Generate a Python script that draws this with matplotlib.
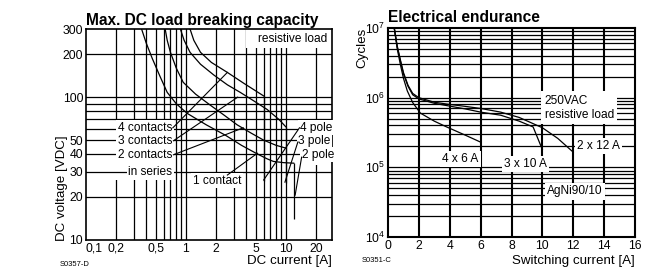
import numpy as np
import matplotlib.pyplot as plt
from matplotlib.patches import Rectangle
from matplotlib import font_manager

names = {f.name for f in font_manager.fontManager.ttflist}
narrow = 'Liberation Sans Narrow' if 'Liberation Sans Narrow' in names else 'Liberation Sans'
plt.rcParams['font.family'] = [narrow, 'DejaVu Sans']
plt.rcParams['mathtext.fontset'] = 'custom'
plt.rcParams['mathtext.rm'] = narrow
plt.rcParams['mathtext.default'] = 'rm'

# Left chart: max. DC load breaking capacity (current [A], voltage [V])
i_1c = [0.36, 0.40, 0.46, 0.55, 0.65, 0.8, 1.03, 1.6, 2.5, 3.6, 5.2, 6.5, 7.5, 9.5, 12]
u_1c = [300, 240, 187, 140, 108, 90, 77, 64, 54, 46, 40, 37, 35.5, 34.8, 34.5]
i_2c = [0.62, 0.65, 0.70, 0.8, 0.94, 1.25, 1.75, 2.4, 3.26, 4.5, 6.0, 8.0, 10]
u_2c = [300, 250, 206, 160, 127, 105, 88, 75, 64, 56, 50, 46, 44]
i_3c = [0.88, 0.96, 1.1, 1.4, 1.9, 2.6, 3.5, 4.8, 6.5, 8.5, 10]
u_3c = [300, 250, 206, 170, 143, 122, 108, 94, 82, 70, 62]
i_4c = [1.1, 1.2, 1.4, 1.8, 2.6, 3.8, 6.0]
u_4c = [300, 250, 206, 175, 149, 125, 102]
pole_i = [6, 10, 12]
pole_top = [102, 62, 34.5]
pole_bottom = [26, 25, 14]

x1_ticks = [0.1, 0.2, 0.5, 1, 2, 5, 10, 20]
x1_labels = ['0,1', '0,2', '0,5', '1', '2', '5', '10', '20']
y1_ticks = [10, 20, 30, 40, 50, 100, 200, 300]
x1_grid = [0.2, 0.3, 0.4, 0.5, 0.6, 0.7, 0.8, 0.9, 1, 2, 3, 4, 5, 6, 7, 8, 9, 10, 20]
y1_grid = [20, 30, 40, 50, 60, 70, 80, 90, 100, 200]

# Right chart: electrical endurance (switching current [A], cycles)
i_2x12 = [0.42, 0.6, 0.8, 1.0, 1.3, 1.6, 2.0, 3.0, 3.8, 5.0, 6.0, 7.3, 8.5, 10.0, 11.0, 12.0]
n_2x12 = [9.5e6, 5.5e6, 3.5e6, 2.3e6, 1.5e6, 1.15e6, 1.0e6, 8.6e5, 8.1e5, 7.5e5, 7.0e5, 6.2e5, 5.2e5, 3.7e5, 2.6e5, 1.65e5]
i_3x10 = [0.42, 0.6, 0.8, 1.0, 1.3, 1.6, 2.0, 3.0, 3.8, 5.0, 6.0, 7.3, 8.5, 9.4, 10.0]
n_3x10 = [9.5e6, 5.3e6, 3.4e6, 2.2e6, 1.45e6, 1.1e6, 9.6e5, 8.3e5, 7.7e5, 6.9e5, 6.2e5, 5.6e5, 4.6e5, 3.8e5, 1.8e5]
i_4x6 = [0.42, 0.6, 0.8, 1.0, 1.25, 1.6, 2.1, 3.0, 3.8, 5.0, 6.0]
n_4x6 = [9.5e6, 5.0e6, 3.0e6, 1.9e6, 1.25e6, 8.5e5, 6.0e5, 4.6e5, 3.8e5, 2.9e5, 2.3e5]

x2_ticks = [0, 2, 4, 6, 8, 10, 12, 14, 16]
y2_ticks = [1e4, 1e5, 1e6, 1e7]
y2_labels = [r'$10^{4}$', r'$10^{5}$', r'$10^{6}$', r'$10^{7}$']

fig = plt.figure(figsize=(6.64, 2.68), dpi=100)

# ---------------- left chart
ax1 = fig.add_axes([86/664, 1 - 240/268, 246/664, 211/268])
ax1.set_xscale('log')
ax1.set_yscale('log')
ax1.set_xlim(0.1, 29)
ax1.set_ylim(10, 300)
ax1.minorticks_off()

for x in x1_grid:
    ax1.axvline(x, color='black', lw=0.9, zorder=1)
for y in y1_grid:
    ax1.axhline(y, color='black', lw=0.9, zorder=3)

# white areas behind the labels
for (x0, y0, w, h) in [(0, 0.284, 0.358, 0.285), (0.858, 0.355, 0.142, 0.214), (0.65, 0.91, 0.35, 0.09)]:
    ax1.add_patch(Rectangle((x0, y0), w, h, transform=ax1.transAxes, facecolor='white',
                            edgecolor='none', zorder=2))

for i, u in [(i_1c, u_1c), (i_2c, u_2c), (i_3c, u_3c), (i_4c, u_4c)]:
    ax1.plot(i, u, color='black', lw=0.9, zorder=3)
ax1.vlines(pole_i, pole_bottom, pole_top, color='black', lw=0.9, zorder=3)

box = dict(facecolor='white', edgecolor='none', pad=1)
fs = 8.6
ax1.text(0.73, 61, '4 contacts', ha='right', va='center', fontsize=fs, bbox=box, zorder=5)
ax1.text(0.73, 49.5, '3 contacts', ha='right', va='center', fontsize=fs, bbox=box, zorder=5)
ax1.text(0.73, 39.5, '2 contacts', ha='right', va='center', fontsize=fs, bbox=box, zorder=5)
ax1.text(0.73, 30, 'in series', ha='right', va='center', fontsize=fs, bbox=box, zorder=5)
ax1.text(2.05, 26.0, '1 contact', ha='center', va='center', fontsize=fs, bbox=box, zorder=5)
ax1.text(13.8, 61, '4 pole', ha='left', va='center', fontsize=fs, bbox=box, zorder=5)
ax1.text(13.3, 49.5, '3 pole', ha='left', va='center', fontsize=fs, bbox=box, zorder=5)
ax1.text(14.5, 39.5, '2 pole', ha='left', va='center', fontsize=fs, bbox=box, zorder=5)
ax1.text(11.6, 255, 'resistive load', ha='center', va='center', fontsize=fs, zorder=5)

leaders1 = [((0.74, 61), (2.6, 149)), ((0.75, 49.5), (3.3, 100)), ((0.75, 39.5), (3.75, 61)),
            ((2.6, 28.5), (5.2, 40.5)), ((13.7, 61), (6.0, 26.3)), ((13.2, 48.5), (9.8, 25.4)),
            ((14.4, 38), (12.4, 20.6))]
for (xa, ya), (xb, yb) in leaders1:
    ax1.plot([xa, xb], [ya, yb], color='black', lw=0.8, zorder=6)

ax1.set_xticks(x1_ticks)
ax1.set_xticklabels(x1_labels)
ax1.get_xticklabels()[0].set_ha('left')
ax1.set_yticks(y1_ticks)
ax1.set_yticklabels([str(v) for v in y1_ticks])
ax1.tick_params(length=0, labelsize=8.8, pad=2)
for s in ax1.spines.values():
    s.set_linewidth(1.2)

fig.text(86/664, 1 - 20/268, 'Max. DC load breaking capacity', fontsize=11.2, fontweight='bold',
         ha='left', va='center')
fig.text(62/664, 1 - 188/268, 'DC voltage [VDC]', rotation=90, fontsize=9.6, ha='center', va='center')
fig.text(332/664, 1 - 261/268, 'DC current [A]', fontsize=9.6, ha='right', va='center')
fig.text(60/664, 1 - 264/268, 'S0357-D', fontsize=5.5, ha='left', va='center')

# ---------------- right chart
ax2 = fig.add_axes([388/664, 1 - 237/268, 247/664, 209/268])
ax2.set_yscale('log')
ax2.set_xlim(0, 16)
ax2.set_ylim(1e4, 1e7)
ax2.minorticks_off()

for x in x2_ticks[1:-1]:
    ax2.axvline(x, color='black', lw=1.5, zorder=1)
for dec in [1e4, 1e5, 1e6]:
    for k in range(1, 10):
        if k * dec > 1e4:
            ax2.axhline(k * dec, color='black', lw=0.9, zorder=1)

ax2.plot(i_2x12, n_2x12, color='black', lw=0.9, zorder=3)
ax2.plot(i_3x10, n_3x10, color='black', lw=0.9, zorder=3)
ax2.plot(i_4x6, n_4x6, color='black', lw=0.9, zorder=3)

box2 = dict(facecolor='white', edgecolor='none', pad=1.5)
ax2.text(10.15, 7.2e5, '250VAC\nresistive load', ha='left', va='center', fontsize=fs,
         linespacing=1.2, bbox=dict(facecolor='white', edgecolor='none', pad=2.5), zorder=5)
ax2.text(12.25, 2.0e5, '2 x 12 A', ha='left', va='center', fontsize=fs, bbox=box2, zorder=5)
ax2.text(8.9, 1.1e5, '3 x 10 A', ha='center', va='center', fontsize=fs, bbox=box2, zorder=5)
ax2.text(4.7, 1.3e5, '4 x 6 A', ha='center', va='center', fontsize=fs, bbox=box2, zorder=5)
ax2.text(12.1, 4.5e4, 'AgNi90/10', ha='center', va='center', fontsize=fs, bbox=box2, zorder=5)

ax2.set_xticks(x2_ticks)
ax2.set_xticklabels([str(v) for v in x2_ticks])
ax2.set_yticks(y2_ticks)
ax2.set_yticklabels(y2_labels)
ax2.tick_params(length=0, labelsize=8.8, pad=2)
for s in ax2.spines.values():
    s.set_linewidth(1.5)

fig.text(388/664, 1 - 18/268, 'Electrical endurance', fontsize=11.2, fontweight='bold',
         ha='left', va='center')
fig.text(362/664, 1 - 28/268, 'Cycles', rotation=90, fontsize=9.6, ha='center', va='top')
fig.text(635/664, 1 - 261/268, 'Switching current [A]', fontsize=9.6, ha='right', va='center')
fig.text(362/664, 1 - 261/268, 'S0351-C', fontsize=5.5, ha='left', va='center')

fig.savefig('out.png', dpi=100)
